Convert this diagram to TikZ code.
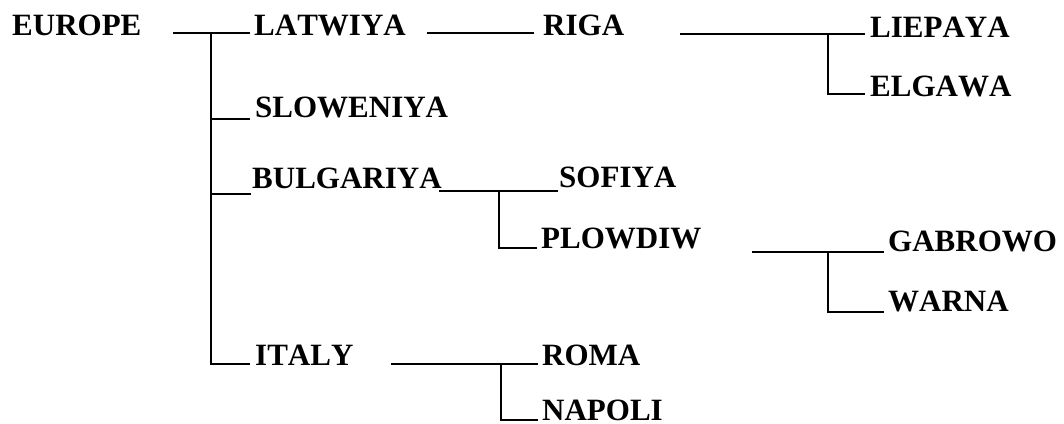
\documentclass[tikz,border=0pt]{standalone}
\usepackage{fontspec}
\setmainfont[Kerning=Off]{Liberation Serif}
\begin{document}
\begin{tikzpicture}[x=1pt,y=1pt,
  lbl/.style={anchor=base west, inner sep=0pt, font=\fontsize{31}{36}\selectfont\bfseries},
  conn/.style={line width=1.6pt}]
\useasboundingbox (0,0) rectangle (1064,-423);
% labels
\node[lbl] (europe)    at (12,-35)   {EUROPE};
\node[lbl] (latwiya)   at (254,-35)  {LATWIYA};
\node[lbl] (sloweniya) at (255,-117) {SLOWENIYA};
\node[lbl] (bulgariya) at (252,-188) {BULGARIYA};
\node[lbl] (italy)     at (255,-365) {ITALY};
\node[lbl] (riga)      at (543,-35)  {RIGA};
\node[lbl] (liepaya)   at (870,-37)  {LIEPAYA};
\node[lbl] (elgawa)    at (870,-96)  {ELGAWA};
\node[lbl] (sofiya)    at (559,-187) {SOFIYA};
\node[lbl] (plowdiw)   at (541,-248) {PLOWDIW};
\node[lbl] (gabrowo)   at (888,-251) {GABROWO};
\node[lbl] (warna)     at (888,-311) {WARNA};
\node[lbl] (roma)      at (542,-365) {ROMA};
\node[lbl] (napoli)    at (542,-420) {NAPOLI};
% junctions
\coordinate (t1) at (211,-33);
\coordinate (j2) at (828,-34);
\coordinate (j3) at (499,-191);
\coordinate (j4) at (828,-252);
\coordinate (j5) at (501,-364);
% connectors
\draw[conn] ([shift={(161,2)}]europe.base west) -- ([shift={(-4,2)}]latwiya.base west);
\draw[conn] (t1) |- ([shift={(-5,-2)}]sloweniya.base west);
\draw[conn] (t1) |- ([shift={(-1,-6)}]bulgariya.base west);
\draw[conn] (t1) |- ([shift={(-5,1)}]italy.base west);
\draw[conn] ([shift={(173,2)}]latwiya.base west) -- ([shift={(-9,2)}]riga.base west);
\draw[conn] ([shift={(137,1)}]riga.base west) -- ([shift={(-5,3)}]liepaya.base west);
\draw[conn] (j2) |- ([shift={(-5,2)}]elgawa.base west);
\draw[conn] ([shift={(187,-3)}]bulgariya.base west) -- ([shift={(-1,-4)}]sofiya.base west);
\draw[conn] (j3) |- ([shift={(-4,0)}]plowdiw.base west);
\draw[conn] ([shift={(211,-4)}]plowdiw.base west) -- ([shift={(-4,-1)}]gabrowo.base west);
\draw[conn] (j4) |- ([shift={(-4,-1)}]warna.base west);
\draw[conn] ([shift={(136,1)}]italy.base west) -- ([shift={(-4,1)}]roma.base west);
\draw[conn] (j5) |- ([shift={(-4,0)}]napoli.base west);
\end{tikzpicture}
\end{document}
